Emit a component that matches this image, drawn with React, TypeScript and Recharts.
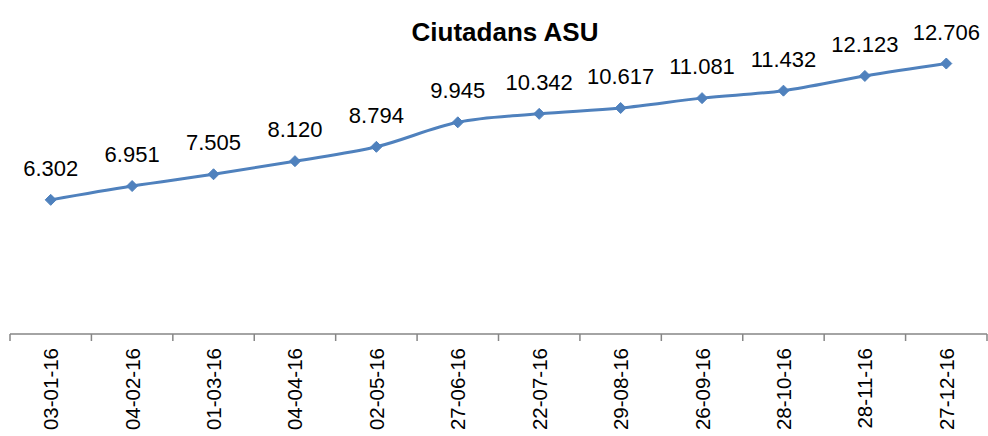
import React from 'react';
import { LineChart, Line, XAxis, YAxis, LabelList } from 'recharts';

const dates = ['03-01-16', '04-02-16', '01-03-16', '04-04-16', '02-05-16', '27-06-16', '22-07-16', '29-08-16', '26-09-16', '28-10-16', '28-11-16', '27-12-16'];
const values = [6.302, 6.951, 7.505, 8.12, 8.794, 9.945, 10.342, 10.617, 11.081, 11.432, 12.123, 12.706];
const labels = ['6.302', '6.951', '7.505', '8.120', '8.794', '9.945', '10.342', '10.617', '11.081', '11.432', '12.123', '12.706'];

const data = dates.map((d, i) => ({ date: d, value: values[i], label: labels[i] }));

const W = 988;
const H = 436;
const M = { top: 36, right: 1, bottom: 0, left: 10 };
const band = (W - M.left - M.right) / dates.length;
const FONT = '"Liberation Sans", Arial, sans-serif';

const Tick = (props: any) => {
  const { x, y, payload, index } = props;
  const half = band / 2;
  const isLast = index === dates.length - 1;
  return (
    <g>
      <line x1={x - half} y1={y - 8} x2={x - half} y2={y - 1} stroke="#868686" strokeWidth={1.5} />
      {isLast && <line x1={x + half} y1={y - 8} x2={x + half} y2={y - 1} stroke="#868686" strokeWidth={1.5} />}
      <text
        x={x}
        y={y + 6}
        transform={`rotate(-90, ${x}, ${y + 6})`}
        textAnchor="end"
        dominantBaseline="central"
        fontSize={20.5}
        fontFamily={FONT}
        fill="#000"
      >
        {payload.value}
      </text>
    </g>
  );
};

const Diamond = (props: any) => {
  const { cx, cy } = props;
  if (cx == null || cy == null) return null;
  const r = 5.5;
  return <polygon points={`${cx},${cy - r} ${cx + r},${cy} ${cx},${cy + r} ${cx - r},${cy}`} fill="#4F81BD" stroke="#4F81BD" />;
};

export default function App() {
  return (
    <div style={{ position: 'absolute', left: 0, top: 0, width: W, height: H, background: '#fff' }}>
      <LineChart width={W} height={H} data={data} margin={M}>
        <text x={505} y={41} textAnchor="middle" fontSize={26} fontWeight="bold" fontFamily={FONT} fill="#000">
          Ciutadans ASU
        </text>
        <XAxis
          dataKey="date"
          interval={0}
          height={102}
          padding={{ left: band / 2, right: band / 2 }}
          axisLine={{ stroke: '#868686', strokeWidth: 1.5 }}
          tickLine={false}
          tick={<Tick />}
        />
        <YAxis hide domain={[0, 14]} />
        <Line
          type="monotone"
          dataKey="value"
          stroke="#4F81BD"
          strokeWidth={3}
          dot={<Diamond />}
          activeDot={false}
          isAnimationActive={false}
        >
          <LabelList dataKey="label" position="top" offset={24} fontSize={22} fontFamily={FONT} fill="#000" />
        </Line>
      </LineChart>
    </div>
  );
}
